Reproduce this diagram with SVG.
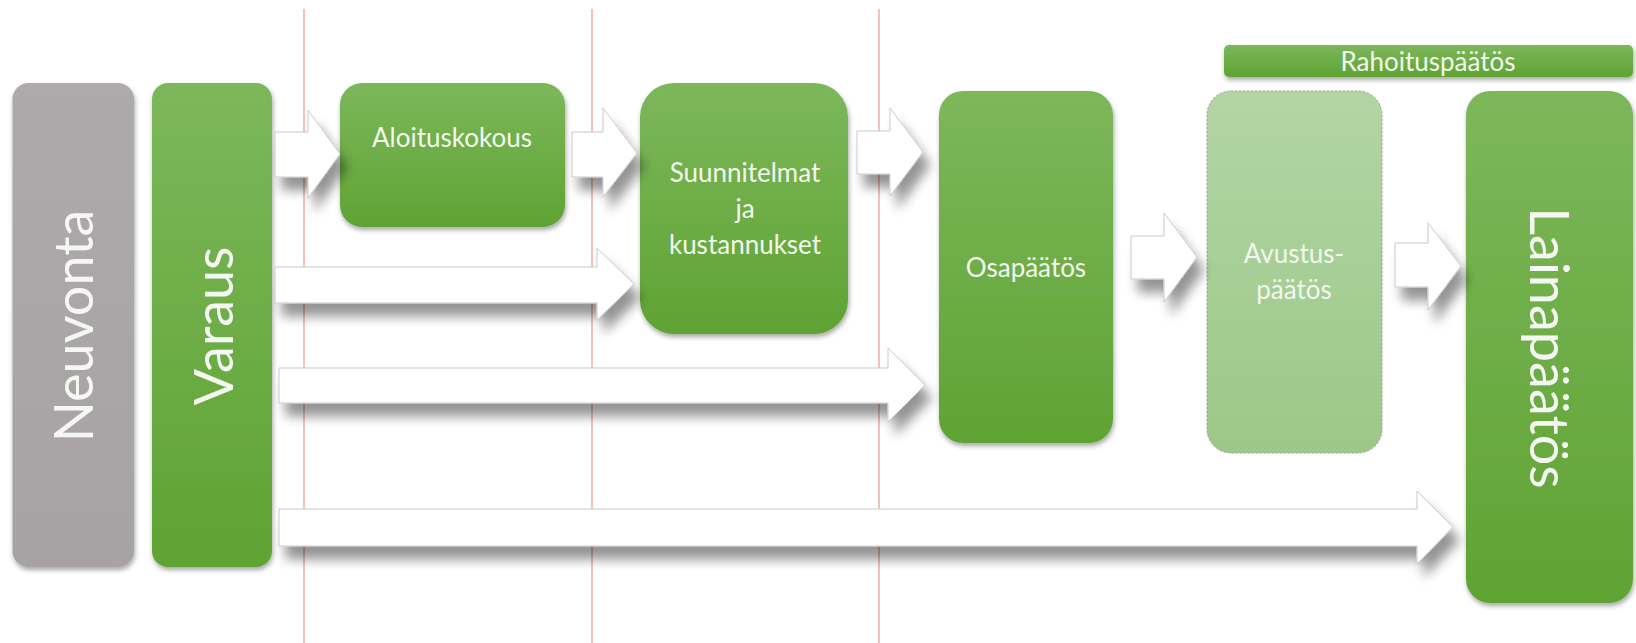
<svg xmlns="http://www.w3.org/2000/svg" width="1636" height="643" viewBox="0 0 1636 643">
<defs>
<linearGradient id="gGreen" x1="0" y1="0" x2="0" y2="1">
<stop offset="0" stop-color="#7db75b"/>
<stop offset="1" stop-color="#5fa333"/>
</linearGradient>
<linearGradient id="gGray" x1="0" y1="0" x2="0" y2="1">
<stop offset="0" stop-color="#aeaaab"/>
<stop offset="1" stop-color="#a7a3a4"/>
</linearGradient>
<linearGradient id="gLight" x1="0" y1="0" x2="0" y2="1">
<stop offset="0" stop-color="#b3d5a4"/>
<stop offset="1" stop-color="#9bc888"/>
</linearGradient>
<filter id="boxShadow" x="-20%" y="-20%" width="140%" height="140%">
<feGaussianBlur in="SourceAlpha" stdDeviation="2.5"/>
<feOffset dx="1" dy="3" result="b"/>
<feComponentTransfer><feFuncA type="linear" slope="0.35"/></feComponentTransfer>
<feMerge><feMergeNode/><feMergeNode in="SourceGraphic"/></feMerge>
</filter>
<filter id="arrowShadow" x="-50%" y="-50%" width="200%" height="220%">
<feGaussianBlur in="SourceAlpha" stdDeviation="6"/>
<feOffset dx="7" dy="13" result="b"/>
<feComponentTransfer><feFuncA type="linear" slope="0.42"/></feComponentTransfer>
<feMerge><feMergeNode/><feMergeNode in="SourceGraphic"/></feMerge>
</filter>
<style>
.vline{stroke:#e9a390;stroke-width:1.3;fill:none}
.green{fill:url(#gGreen);filter:url(#boxShadow)}
.gray{fill:url(#gGray);filter:url(#boxShadow)}
.light{fill:url(#gLight);stroke:#9aa596;stroke-width:1;stroke-dasharray:2.5 1.5}
.arrow{fill:#ffffff;stroke:#c9c9cc;stroke-width:1;stroke-linejoin:miter}
.lbl{font-family:Lato,'Open Sans','Liberation Sans',sans-serif;fill:#f3f8ef;text-anchor:middle;font-size:26px}
.big{font-family:Lato,'Open Sans','Liberation Sans',sans-serif;fill:#f5f7f3;text-anchor:middle;font-size:54px}
</style>
</defs>
<rect width="1636" height="643" fill="#ffffff"/>
<g id="phase-lines">
<line class="vline" x1="304" y1="9" x2="304" y2="643"/>
<line class="vline" x1="592" y1="9" x2="592" y2="643"/>
<line class="vline" x1="879" y1="9" x2="879" y2="643"/>
</g>
<g id="node-neuvonta">
<rect class="gray" x="12.5" y="83" width="121.5" height="484" rx="16"/>
<text class="big" transform="translate(93,326) rotate(-90)">Neuvonta</text>
</g>
<g id="node-varaus">
<rect class="green" x="152" y="83" width="120" height="484" rx="16"/>
<text class="big" transform="translate(233,326) rotate(-90)">Varaus</text>
</g>
<g id="node-aloituskokous">
<rect class="green" x="340" y="83" width="225" height="144" rx="22"/>
<text class="lbl" x="452" y="147">Aloituskokous</text>
</g>
<g id="node-suunnitelmat">
<rect class="green" x="640" y="83" width="208" height="251" rx="34"/>
<text class="lbl" x="745" y="182">Suunnitelmat</text>
<text class="lbl" x="745" y="218">ja</text>
<text class="lbl" x="745" y="254">kustannukset</text>
</g>
<g id="node-osapaatos">
<rect class="green" x="939" y="91" width="174" height="352" rx="24"/>
<text class="lbl" x="1026" y="277">Osapäätös</text>
</g>
<g id="node-avustuspaatos">
<rect class="light" x="1207" y="91" width="175" height="362" rx="24"/>
<text class="lbl" x="1294" y="263">Avustus-</text>
<text class="lbl" x="1294" y="299">päätös</text>
</g>
<g id="node-rahoituspaatos">
<rect class="green" x="1224" y="45" width="409" height="32" rx="5"/>
<text class="lbl" x="1428" y="71">Rahoituspäätös</text>
</g>
<g id="node-lainapaatos">
<rect class="green" x="1466" y="91" width="167" height="512" rx="24"/>
<text class="big" transform="translate(1530,348) rotate(90)">Lainapäätös</text>
</g>
<g id="connectors" filter="url(#arrowShadow)">
<polygon class="arrow" points="275,132 308,132 308,110 340,154 308,198 308,177 275,177"/>
<polygon class="arrow" points="572,132 603,132 603,108 637,153 603,197 603,177 572,177"/>
<polygon class="arrow" points="857,131 890,131 890,108 923,152 890,196 890,174 857,174"/>
<polygon class="arrow" points="1131,236 1164,236 1164,213 1197,257 1164,302 1164,279 1131,279"/>
<polygon class="arrow" points="1395,243 1428,243 1428,223 1461,266 1428,310 1428,287 1395,287"/>
<polygon class="arrow" points="275,267 597,267 597,248 634,284 597,320 597,303 275,303"/>
<polygon class="arrow" points="279,368 888,368 888,348 925,385 888,422 888,403 279,403"/>
<polygon class="arrow" points="279,509 1417,509 1417,491 1453,527 1417,564 1417,546 279,546"/>
</g>
</svg>
